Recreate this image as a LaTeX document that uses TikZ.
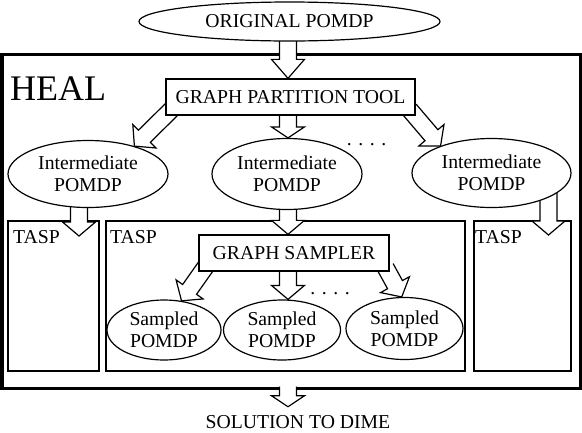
\documentclass[tikz,border=0pt]{standalone}
\usepackage{fontspec}
\setmainfont{Liberation Serif}
\usetikzlibrary{shapes,calc,positioning}
\pgfdeclarelayer{boxes}
\pgfdeclarelayer{arrows}
\pgfsetlayers{boxes,arrows,main}

\newcommand{\labelsize}{\fontsize{19.7}{22}\selectfont}
% hollow block arrow: [head length]{tail}{tip}
\newcommand{\hollowarrow}[3][14pt]{%
  \path[fill=white] let \p1=(#2), \p2=(#3), \n1={atan2(\y2-\y1,\x2-\x1)},
      \n2={veclen(\x2-\x1,\y2-\y1)-#1} in
    ($(\p1)+(\n1+90:8.5pt)$) -- ($(\p1)+(\n1:\n2)+(\n1+90:8.5pt)$)
    -- ($(\p1)+(\n1:\n2)+(\n1+90:16.5pt)$) -- (\p2)
    -- ($(\p1)+(\n1:\n2)+(\n1-90:16.5pt)$) -- ($(\p1)+(\n1:\n2)+(\n1-90:8.5pt)$)
    -- ($(\p1)+(\n1-90:8.5pt)$) -- cycle;
  \draw[line width=1.2pt] let \p1=(#2), \p2=(#3), \n1={atan2(\y2-\y1,\x2-\x1)},
      \n2={veclen(\x2-\x1,\y2-\y1)-#1} in
    ($(\p1)+(\n1+90:8.5pt)$) -- ($(\p1)+(\n1:\n2)+(\n1+90:8.5pt)$)
    -- ($(\p1)+(\n1:\n2)+(\n1+90:16.5pt)$) -- (\p2)
    -- ($(\p1)+(\n1:\n2)+(\n1-90:16.5pt)$) -- ($(\p1)+(\n1:\n2)+(\n1-90:8.5pt)$)
    -- ($(\p1)+(\n1-90:8.5pt)$);
}

\begin{document}
\begin{tikzpicture}[x=1pt,y=-1pt,
    every node/.style={font=\labelsize},
    pomdp/.style={draw, ellipse, line width=1.2pt, fill=white, align=center, inner sep=0pt},
    tool/.style={draw, rectangle, line width=1.3pt, fill=white, inner sep=0pt},
    tasp/.style={draw, rectangle, line width=2pt, inner sep=0pt, outer sep=0pt},
    tasplabel/.style={anchor=base west, inner sep=0pt}]
  \useasboundingbox (0,0) rectangle (582,432);
  \coordinate (spine) at (288,0);

  % containers
  \begin{pgfonlayer}{boxes}
    \node[draw, line width=3pt, inner sep=0pt, outer sep=0pt,
          minimum width=578, minimum height=334.5] (heal) at (291,221.25) {};
    \node[tasp, minimum width=91, minimum height=150] (tasp1) at (53.5,296) {};
    \node[tasp, minimum width=359, minimum height=150] (tasp2) at (285.5,296) {};
    \node[tasp, minimum width=97, minimum height=150] (tasp3) at (522.5,296) {};
  \end{pgfonlayer}

  \node[anchor=base west, inner sep=0pt, font=\fontsize{36}{40}\selectfont] (healtitle) at (10,100) {HEAL};
  \node[tasplabel] (tlabel1) at ($(tasp1.north west)+(5,22)$) {TASP};
  \node[tasplabel] (tlabel2) at ($(tasp2.north west)+(4,22)$) {TASP};
  \node[tasplabel] (tlabel3) at ($(tasp3.north west)+(1,22)$) {TASP};

  % top level
  \node[pomdp, minimum width=301, minimum height=39] (orig) at (289.5,21.5) {ORIGINAL POMDP};
  \node[tool, minimum width=249, minimum height=36] (gpt) at (290.5,97) {GRAPH PARTITION TOOL};
  \node[pomdp, minimum width=160, minimum height=67] (inter1) at (88,174) {Intermediate\\POMDP};
  \node[pomdp, minimum width=150, minimum height=71] (inter2) at (287,174) {Intermediate\\POMDP};
  \node[pomdp, minimum width=159, minimum height=69] (inter3) at (491.5,173) {Intermediate\\POMDP};
  \node[anchor=base] (dots1) at (366.5,145) {. . . .};

  % sampler
  \node[tool, minimum width=190, minimum height=36] (gs) at (294,253) {GRAPH SAMPLER};
  \node[pomdp, minimum width=114, minimum height=60] (s1) at (164,330) {Sampled\\POMDP};
  \node[pomdp, minimum width=117, minimum height=60] (s2) at (282,330) {Sampled\\POMDP};
  \node[pomdp, minimum width=117, minimum height=62] (s3) at (404.5,328.5) {Sampled\\POMDP};
  \node[anchor=base] (dots2) at (330,294.5) {. . . .};

  \node[anchor=base, inner sep=0pt] (sol) at (298,428) {SOLUTION TO DIME};

  % arrows
  \begin{pgfonlayer}{arrows}
    \hollowarrow[19pt]{spine |- orig.center}{spine |- gpt.north}
    \hollowarrow{$(gpt.south west)+(6,-6)$}{inter1.31}
    \hollowarrow[11pt]{spine |- gpt.center}{spine |- inter2.north}
    \hollowarrow{$(gpt.south east)+(-6,-6)$}{inter3.152}
    \hollowarrow{$(inter1.center)+(-9,0)$}{$(inter1.center |- tasp1.north)+(-9,15)$}
    \hollowarrow{spine |- inter2.center}{spine |- gs.north}
    \hollowarrow{$(inter3.center)+(57,0)$}{$(inter3.center |- tasp3.north)+(57,14)$}
    \hollowarrow{$(gs.south west)+(8,-6)$}{s1.59}
    \hollowarrow{spine |- gs.center}{spine |- s2.north}
    \hollowarrow{$(gs.south east)+(-4,-4)$}{s3.95}
    \hollowarrow[11pt]{$(spine |- heal.south)+(0,-2)$}{$(spine |- sol.north)+(0,-8)$}
  \end{pgfonlayer}
\end{tikzpicture}
\end{document}
